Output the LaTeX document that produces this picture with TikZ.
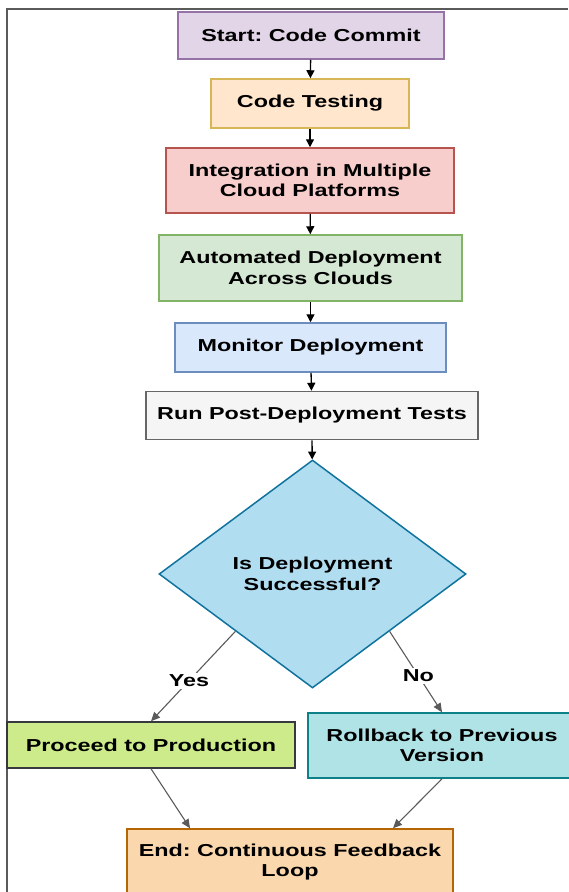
\documentclass[tikz,border=0pt]{standalone}
\usepackage{fontspec}
\setmainfont{Liberation Sans}[FakeStretch=1.35]
\usepackage{tikz}
\usetikzlibrary{shapes.geometric}
\usetikzlibrary{arrows.meta}
\usetikzlibrary{positioning}
\definecolor{startfill}{HTML}{E1D5E7}\definecolor{startline}{HTML}{9673A6}
\definecolor{testfill}{HTML}{FFE6CC}\definecolor{testline}{HTML}{D6B656}
\definecolor{integfill}{HTML}{F8CECC}\definecolor{integline}{HTML}{B85450}
\definecolor{autofill}{HTML}{D5E8D4}\definecolor{autoline}{HTML}{82B366}
\definecolor{monfill}{HTML}{DAE8FC}\definecolor{monline}{HTML}{6C8EBF}
\definecolor{runfill}{HTML}{F5F5F5}\definecolor{runline}{HTML}{666666}
\definecolor{decfill}{HTML}{B1DDF0}\definecolor{decline}{HTML}{10739E}
\definecolor{prodfill}{HTML}{CDEB8B}\definecolor{prodline}{HTML}{36393D}
\definecolor{rollfill}{HTML}{B0E3E6}\definecolor{rollline}{HTML}{0E8088}
\definecolor{endfill}{HTML}{FAD7AC}\definecolor{endline}{HTML}{B46504}
\definecolor{frameline}{HTML}{5A5A5A}
\frenchspacing
\tikzset{every picture/.style={x=1pt,y=-1pt,line width=1.5pt},
  box/.style={draw,rectangle,inner sep=0pt,align=center,text=black,
    font=\fontsize{17.3}{20.5}\selectfont\bfseries},
  flow/.style={-{Triangle[length=8pt,width=8pt]},line width=1.3pt,black},
  branch/.style={-{Triangle[length=9pt,width=8pt]},line width=1.1pt,draw=frameline},
  answer/.style={fill=white,inner sep=2pt,text=black,font=\fontsize{17.3}{20}\selectfont\bfseries}}

\begin{document}
\begin{tikzpicture}
\useasboundingbox (0,0) rectangle (568,892);
\draw[frameline] (568,9) -- (7,9) -- (7,892);
\node[box,fill=startfill,draw=startline,minimum width=266pt,minimum height=47pt] (start) at (311,35.5) {Start: Code Commit};
\node[box,fill=testfill,draw=testline,minimum width=198pt,minimum height=49pt] (test) at (310,103.5) {Code Testing};
\node[box,fill=integfill,draw=integline,minimum width=288pt,minimum height=65pt] (integ) at (310,180.5) {Integration in Multiple\\Cloud Platforms};
\node[box,fill=autofill,draw=autoline,minimum width=303pt,minimum height=66pt] (deploy) at (310.5,268) {Automated Deployment\\Across Clouds};
\node[box,fill=monfill,draw=monline,minimum width=271pt,minimum height=49pt] (monitor) at (310.5,347.5) {Monitor Deployment};
\node[box,fill=runfill,draw=runline,minimum width=332pt,minimum height=48pt] (posttest) at (312,415.5) {Run Post-Deployment Tests};
\node[box,diamond,fill=decfill,draw=decline,minimum width=307pt,minimum height=228pt] (decide) at (312.5,574) {Is Deployment\\Successful?};
\node[box,fill=prodfill,draw=prodline,minimum width=288pt,minimum height=46pt] (prod) at (151,745) {Proceed to Production};
\node[box,fill=rollfill,draw=rollline,minimum width=268pt,minimum height=65pt] (rollback) at (442,745.5) {Rollback to Previous\\Version};
\node[box,fill=endfill,draw=endline,minimum width=326pt,minimum height=66pt] (finish) at (290,862) {End: Continuous Feedback\\Loop};
\draw[flow] (start) -- (test);
\draw[flow] (test) -- (integ);
\draw[flow] (integ) -- (deploy);
\draw[flow] (deploy) -- (monitor);
\draw[flow] (monitor) -- (posttest);
\draw[flow] (posttest) -- (decide);
\draw[branch] (decide.south west) -- (prod.north) node[answer,pos=0.55] {Yes};
\draw[branch] (decide.south east) -- (rollback.north) node[answer,pos=0.55] {No};
\draw[branch] (prod.south) -- ([xshift=-100pt]finish.north);
\draw[branch] (rollback.south) -- ([xshift=103pt]finish.north);
\end{tikzpicture}
\end{document}
